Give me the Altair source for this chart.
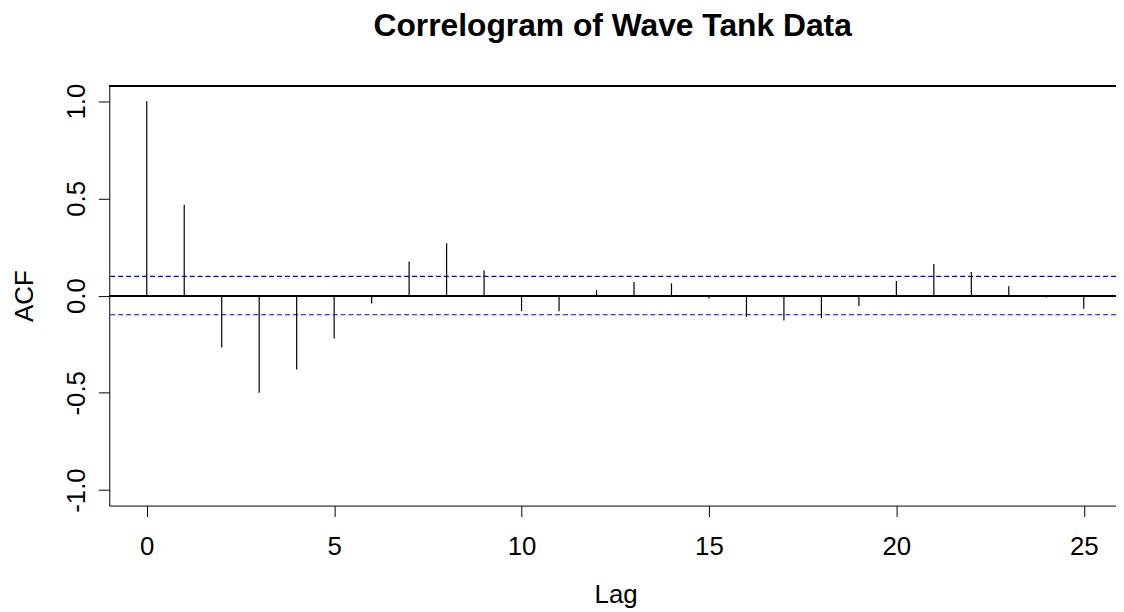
import altair as alt
import pandas as pd

# Data
lags = list(range(26))
acf_values = [1.0, 0.467, -0.267, -0.50, -0.38, -0.221, -0.041, 0.176, 0.269, 0.130,
              -0.080, -0.080, 0.029, 0.070, 0.063, -0.015, -0.109, -0.128, -0.116, -0.053,
              0.075, 0.162, 0.121, 0.048, -0.010, -0.068]
conf_limits = [0.0985, -0.0985]
x_ticks = [0, 5, 10, 15, 20, 25]
y_ticks = [-1.0, -0.5, 0.0, 0.5, 1.0]
x_domain = [-1, 25.86]
y_domain = [-1.08, 1.08]

FONT = "Liberation Sans"
W, H = 1014, 423

df = pd.DataFrame({"lag": lags, "acf": acf_values, "zero": [0.0] * len(lags)})
ci = pd.DataFrame({"ci": conf_limits})

xscale = alt.Scale(domain=x_domain, nice=False, zero=False)
yscale = alt.Scale(domain=y_domain, nice=False, zero=False)

xaxis = alt.Axis(values=x_ticks, format="d", grid=False, tickSize=11, tickColor="black",
                 domainColor="black", labelFont=FONT, labelFontSize=26, labelColor="black",
                 labelBaseline="top", labelPadding=17, labelFlush=False,
                 title="Lag", titleFont=FONT, titleFontSize=26, titleFontWeight="normal",
                 titleColor="black", titleX=510, titleY=97.5, titleBaseline="alphabetic",
                 titleAlign="center")
yaxis = alt.Axis(values=y_ticks, grid=False, tickSize=11, tickColor="black",
                 domainColor="black", labelFont=FONT, labelFontSize=26, labelColor="black",
                 labelAngle=270, labelAlign="center", labelBaseline="alphabetic",
                 labelPadding=14, labelFlush=False,
                 labelExpr="(datum.value < 0 ? '-' : '') + format(abs(datum.value), '.1f')",
                 title="ACF", titleFont=FONT, titleFontSize=26, titleFontWeight="normal",
                 titleColor="black", titleAngle=270, titleX=-77, titleY=211.5,
                 titleBaseline="alphabetic", titleAlign="center")

bars = alt.Chart(df).mark_rule(color="black", strokeWidth=1.2).encode(
    x=alt.X("lag:Q", scale=xscale, axis=xaxis),
    y=alt.Y("zero:Q", scale=yscale, axis=yaxis),
    y2="acf:Q",
)

zero_line = alt.Chart(df).mark_rule(color="black", strokeWidth=1.2).encode(
    y=alt.datum(0.0, scale=yscale)
)

ci_lines = alt.Chart(ci).mark_rule(color="#0000ee", strokeWidth=1.2, strokeDash=[5, 3]).encode(
    y=alt.Y("ci:Q", scale=yscale)
)

top_border = alt.Chart(df).mark_rule(color="black", strokeWidth=1.2).encode(
    y=alt.datum(y_domain[1], scale=yscale)
)

chart = alt.layer(zero_line, ci_lines, bars, top_border).properties(
    width=W, height=H,
    title=alt.TitleParams("Correlogram of Wave Tank Data", font=FONT, fontSize=32,
                          fontWeight="bold", color="black", anchor="middle",
                          baseline="alphabetic", offset=16),
    autosize=alt.AutoSizeParams(type="none"),
    padding={"left": 102, "top": 76, "right": 0, "bottom": 104},
).configure_view(stroke=None)

chart.save("out.html", embed_options={"renderer": "svg", "actions": False})
